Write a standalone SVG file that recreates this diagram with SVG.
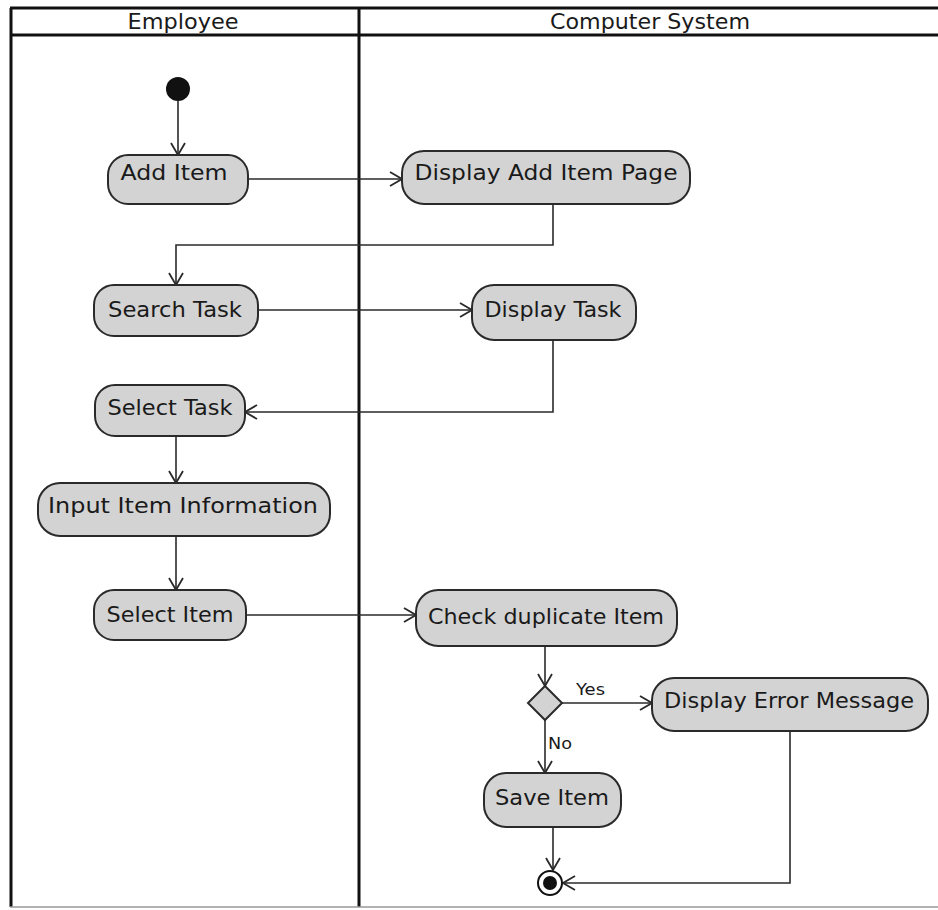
<svg xmlns="http://www.w3.org/2000/svg" width="938" height="910" viewBox="0 0 938 910">
  <style>
    .lane { fill: none; stroke: #111; stroke-width: 3; }
    .act { fill: #d3d3d3; stroke: #2a2a2a; stroke-width: 2; }
    .lbl { font-family: "DejaVu Sans", Verdana, sans-serif; font-size: 22px; fill: #1a1a1a; text-anchor: middle; }
    .hdr { font-family: "DejaVu Sans", Verdana, sans-serif; font-size: 22px; fill: #1a1a1a; text-anchor: middle; }
    .guard { font-family: "DejaVu Sans", Verdana, sans-serif; font-size: 16px; fill: #1a1a1a; }
    .flow { fill: none; stroke: #2a2a2a; stroke-width: 1.6; marker-end: url(#open); }
  </style>
  <defs>
    <marker id="open" viewBox="0 0 14 16" refX="13" refY="8" markerWidth="14" markerHeight="16" markerUnits="userSpaceOnUse" orient="auto">
      <path d="M1,1 L13,8 L1,15" fill="none" stroke="#2a2a2a" stroke-width="1.8"/>
    </marker>
  </defs>
  <rect width="938" height="910" fill="#ffffff"/>

  <!-- swimlanes -->
  <g id="lanes">
    <line class="lane" x1="10" y1="8" x2="938" y2="8"/>
    <line class="lane" x1="10" y1="35" x2="938" y2="35"/>
    <line class="lane" x1="11" y1="8" x2="11" y2="907"/>
    <line class="lane" x1="359" y1="8" x2="359" y2="907"/>
    <line x1="10" y1="907" x2="938" y2="907" stroke="#999" stroke-width="1.5"/>
    <text class="hdr" x="183" y="29" textLength="111" lengthAdjust="spacingAndGlyphs">Employee</text>
    <text class="hdr" x="650" y="29" textLength="200" lengthAdjust="spacingAndGlyphs">Computer System</text>
  </g>

  <!-- connectors -->
  <g id="connectors">
    <path class="flow" d="M178,101 L178,155"/>
    <path class="flow" d="M248,179 L402,179"/>
    <path class="flow" d="M553,204 L553,245 L176,245 L176,285"/>
    <path class="flow" d="M258,310 L472,310"/>
    <path class="flow" d="M553,340 L553,412 L245,412"/>
    <path class="flow" d="M176,436 L176,483"/>
    <path class="flow" d="M176,536 L176,590"/>
    <path class="flow" d="M246,615 L416,615"/>
    <path class="flow" d="M545,646 L545,686"/>
    <path class="flow" d="M562,703 L652,703"/>
    <path class="flow" d="M545,720 L545,773"/>
    <path class="flow" d="M553,827 L553,870"/>
    <path class="flow" d="M790,731 L790,883 L563,883"/>
    <text class="guard" x="576" y="695" textLength="29" lengthAdjust="spacingAndGlyphs">Yes</text>
    <text class="guard" x="548" y="749" textLength="24" lengthAdjust="spacingAndGlyphs">No</text>
  </g>

  <!-- nodes -->
  <g id="start"><circle cx="178" cy="89" r="12" fill="#111"/></g>
  <g id="add-item">
    <rect class="act" x="108" y="155" width="140" height="49" rx="20"/>
    <text class="lbl" x="174" y="180" textLength="107" lengthAdjust="spacingAndGlyphs">Add Item</text>
  </g>
  <g id="display-add-item-page">
    <rect class="act" x="402" y="151" width="288" height="53" rx="22"/>
    <text class="lbl" x="546" y="180" textLength="263" lengthAdjust="spacingAndGlyphs">Display  Add Item Page</text>
  </g>
  <g id="search-task">
    <rect class="act" x="94" y="285" width="164" height="51" rx="20"/>
    <text class="lbl" x="175" y="317" textLength="134" lengthAdjust="spacingAndGlyphs">Search Task</text>
  </g>
  <g id="display-task">
    <rect class="act" x="472" y="285" width="164" height="55" rx="22"/>
    <text class="lbl" x="553" y="317" textLength="137" lengthAdjust="spacingAndGlyphs">Display Task</text>
  </g>
  <g id="select-task">
    <rect class="act" x="95" y="385" width="150" height="51" rx="20"/>
    <text class="lbl" x="170" y="415" textLength="125" lengthAdjust="spacingAndGlyphs">Select Task</text>
  </g>
  <g id="input-item-information">
    <rect class="act" x="38" y="483" width="292" height="53" rx="22"/>
    <text class="lbl" x="183" y="513" textLength="270" lengthAdjust="spacingAndGlyphs">Input Item Information</text>
  </g>
  <g id="select-item">
    <rect class="act" x="94" y="590" width="152" height="50" rx="20"/>
    <text class="lbl" x="170" y="622" textLength="127" lengthAdjust="spacingAndGlyphs">Select Item</text>
  </g>
  <g id="check-duplicate-item">
    <rect class="act" x="416" y="590" width="261" height="56" rx="22"/>
    <text class="lbl" x="546" y="624" textLength="236" lengthAdjust="spacingAndGlyphs">Check duplicate Item</text>
  </g>
  <g id="decision">
    <polygon class="act" points="545,686 562,703 545,720 528,703"/>
  </g>
  <g id="display-error-message">
    <rect class="act" x="652" y="678" width="276" height="53" rx="22"/>
    <text class="lbl" x="789" y="708" textLength="250" lengthAdjust="spacingAndGlyphs">Display Error Message</text>
  </g>
  <g id="save-item">
    <rect class="act" x="484" y="773" width="137" height="54" rx="22"/>
    <text class="lbl" x="552" y="805" textLength="114" lengthAdjust="spacingAndGlyphs">Save Item</text>
  </g>
  <g id="end">
    <circle cx="550" cy="883" r="12" fill="#fff" stroke="#111" stroke-width="2"/>
    <circle cx="550" cy="883" r="7" fill="#111"/>
  </g>
</svg>
